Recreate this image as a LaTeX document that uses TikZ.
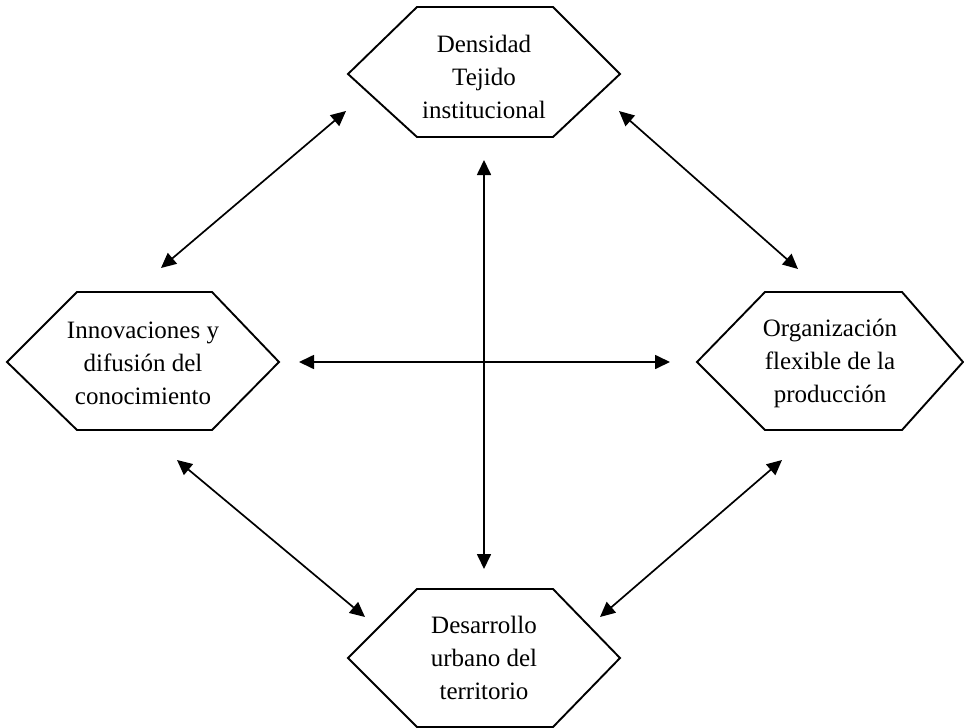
\documentclass[tikz,border=0pt]{standalone}
\usepackage{fontspec}
\setmainfont{Liberation Serif}
\usetikzlibrary{arrows.meta}
\tikzset{
  hexa/.style={draw, line width=1.9pt, line join=miter},
  txt/.style={align=center, inner sep=0pt, font=\fontsize{25}{33}\selectfont},
  dbl/.style={line width=1.7pt, {Triangle[length=15pt,width=14pt]}-{Triangle[length=15pt,width=14pt]}}
}
\begin{document}
\begin{tikzpicture}[x=1pt,y=-1pt]
\useasboundingbox (0,0) rectangle (964,728);
% hexagons
\draw[hexa] (348,74)--(417,7)--(553,7)--(620,74)--(553,137)--(417,137)--cycle;
\draw[hexa] (7,362)--(77,292)--(212,292)--(279,362)--(212,430)--(77,430)--cycle;
\draw[hexa] (697,362)--(765,292)--(902,292)--(963,362)--(902,430)--(765,430)--cycle;
\draw[hexa] (348,658)--(417,589)--(553,589)--(620,658)--(553,727)--(417,727)--cycle;
% labels
\node[txt](dens) at (484,77){Densidad\\Tejido\\institucional};
\node[txt](innov) at (143,363){Innovaciones y\\difusión del\\conocimiento};
\node[txt](org) at (830,363){Organización\\flexible de la\\producción};
\node[txt](des) at (484,658){Desarrollo\\urbano del\\territorio};
% arrow ends
\coordinate (tl1) at (161,268);
\coordinate (tl2) at (346,111);
\coordinate (tr1) at (619,111);
\coordinate (tr2) at (798,269);
\coordinate (bl1) at (177,460);
\coordinate (bl2) at (365,617);
\coordinate (br1) at (782,460);
\coordinate (br2) at (600,617);
\coordinate (v1) at (484,160);
\coordinate (v2) at (484,569);
\coordinate (h1) at (299,362);
\coordinate (h2) at (670,362);
\draw[dbl] (tl1)--(tl2);
\draw[dbl] (tr1)--(tr2);
\draw[dbl] (bl1)--(bl2);
\draw[dbl] (br1)--(br2);
\draw[dbl] (v1)--(v2);
\draw[dbl] (h1)--(h2);
\end{tikzpicture}
\end{document}
